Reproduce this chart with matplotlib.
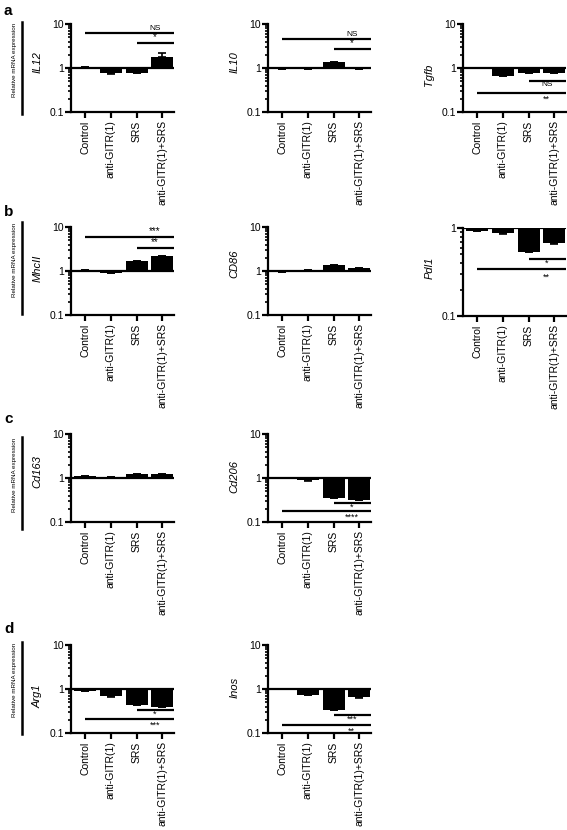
import numpy as np
import matplotlib
matplotlib.use("Agg")
import matplotlib.pyplot as plt
from matplotlib.ticker import LogLocator, NullFormatter, FixedLocator, FixedFormatter

plt.rcParams['font.family'] = ['Liberation Sans', 'DejaVu Sans']

groups = ['Control', 'anti-GITR(1)', 'SRS', 'anti-GITR(1)+SRS']

genes = ['IL12', 'IL10', 'Tgfb', 'MhcII', 'CD86', 'Pdl1', 'Cd163', 'Cd206', 'Arg1', 'Inos']

il12 = [1.06, 0.75, 0.78, 1.8]
il12_err = [0.01, 0.01, 0.02, 0.35]
il10 = [0.95, 0.93, 1.38, 0.93]
il10_err = [0.0, 0.0, 0.01, 0.0]
tgfb = [1.0, 0.67, 0.77, 0.76]
tgfb_err = [0.0, 0.0, 0.0, 0.0]
mhcii = [1.06, 0.9, 1.68, 2.15]
mhcii_err = [0.01, 0.0, 0.02, 0.02]
cd86 = [0.97, 1.07, 1.37, 1.18]
cd86_err = [0.0, 0.0, 0.01, 0.01]
pdl1 = [0.92, 0.87, 0.54, 0.67]
pdl1_err = [0.0, 0.01, 0.01, 0.01]
cd163 = [1.1, 1.04, 1.22, 1.22]
cd163_err = [0.01, 0.0, 0.01, 0.01]
cd206 = [0.98, 0.88, 0.36, 0.31]
cd206_err = [0.0, 0.01, 0.0, 0.0]
arg1 = [0.92, 0.68, 0.44, 0.40]
arg1_err = [0.01, 0.01, 0.0, 0.0]
inos = [1.0, 0.73, 0.33, 0.65]
inos_err = [0.0, 0.01, 0.0, 0.01]

# significance bars: (start group, y level, label)
il12_sig = [(0, 6.3, 'NS'), (2, 3.7, '*')]
il10_sig = [(0, 4.5, 'NS'), (2, 2.7, '*')]
tgfb_sig = [(2, 0.5, 'NS'), (0, 0.27, '**')]
mhcii_sig = [(0, 5.8, '***'), (2, 3.4, '**')]
cd86_sig = []
pdl1_sig = [(2, 0.45, '*'), (0, 0.34, '**')]
cd163_sig = []
cd206_sig = [(2, 0.27, '*'), (0, 0.18, '****')]
arg1_sig = [(2, 0.33, '*'), (0, 0.21, '***')]
inos_sig = [(2, 0.26, '***'), (0, 0.15, '**')]

values = [il12, il10, tgfb, mhcii, cd86, pdl1, cd163, cd206, arg1, inos]
errors = [il12_err, il10_err, tgfb_err, mhcii_err, cd86_err, pdl1_err,
          cd163_err, cd206_err, arg1_err, inos_err]
sigs = [il12_sig, il10_sig, tgfb_sig, mhcii_sig, cd86_sig, pdl1_sig,
        cd163_sig, cd206_sig, arg1_sig, inos_sig]

# layout (pixels)
W, H = 567, 830
cols = [71, 268, 463]
row_top = [24, 227, 434, 645]
ax_w, ax_h = 103, 88
grid = [(0, 0), (0, 1), (0, 2), (1, 0), (1, 1), (1, 2), (2, 0), (2, 1), (3, 0), (3, 1)]
label_y = [0.57, 0.57, 0.42, 0.53, 0.58, 0.55, 0.57, 0.52, 0.42, 0.52]

fig = plt.figure(figsize=(W / 100, H / 100), dpi=100)

x = np.arange(len(groups))
lw = 1.6
for i, gene in enumerate(genes):
    r, c = grid[i]
    top = row_top[r] + (1 if gene == 'Pdl1' else 0)
    ax = fig.add_axes([cols[c] / W, 1 - (top + ax_h) / H, ax_w / W, ax_h / H])
    ax.set_yscale('log')
    ylo, yhi = (0.1, 1) if gene == 'Pdl1' else (0.1, 10)
    ax.set_ylim(ylo, yhi)
    ax.set_xlim(-0.55, 3.45)

    v = np.array(values[i])
    e = np.array(errors[i])
    up = np.where(v >= 1, e, 0)
    dn = np.where(v < 1, e, 0)
    ax.bar(x, v - 1, bottom=1, width=0.85, color='black', zorder=2)
    ax.errorbar(x, v, yerr=[dn, up], fmt='none', ecolor='black',
                elinewidth=1.2, capsize=3, capthick=1.2, zorder=3)
    ax.axhline(1, color='black', lw=lw, zorder=4)

    for start, yv, txt in sigs[i]:
        ax.plot([start, 3.45], [yv, yv], color='black', lw=lw, clip_on=False,
                solid_capstyle='butt')
        if yv > 1:
            fs = 6 if txt == 'NS' else 7
            ax.text(2.7, yv * 1.05, txt, ha='center', va='bottom', fontsize=fs)
        else:
            fs = 6 if txt == 'NS' else 6.5
            off = 1.0 if start == 2 else 1.1
            ax.text(2.7, yv / off, txt, ha='center', va='top', fontsize=fs)

    for s in ['top', 'right']:
        ax.spines[s].set_visible(False)
    for s in ['left', 'bottom']:
        ax.spines[s].set_linewidth(lw)

    ticks = [0.1, 1] if gene == 'Pdl1' else [0.1, 1, 10]
    ax.yaxis.set_major_locator(FixedLocator(ticks))
    ax.yaxis.set_major_formatter(FixedFormatter(['0.1', '1', '10'][:len(ticks)]))
    ax.yaxis.set_minor_locator(LogLocator(base=10, subs=np.arange(2, 10)))
    ax.yaxis.set_minor_formatter(NullFormatter())
    ax.tick_params(axis='y', which='major', length=4, width=lw, labelsize=7.5, pad=1)
    ax.tick_params(axis='y', which='minor', length=2.5, width=1.2)
    ax.set_xticks(x)
    ax.set_xticklabels(groups, rotation=90, fontsize=7.5)
    ax.tick_params(axis='x', length=4, width=lw, pad=2)

    ax.set_ylabel(gene, fontstyle='italic', fontsize=8)
    ax.yaxis.set_label_coords(-0.28, label_y[i])

# row side labels
letters = ['a', 'b', 'c', 'd']
letter_y = [4, 205, 412, 622]
line_top = [22, 222, 437, 642]
for r in range(4):
    fig.text(4 / W, 1 - letter_y[r] / H, letters[r], fontsize=11,
             fontweight='bold', va='top', ha='left')
    fig.add_artist(plt.Line2D([22 / W, 22 / W],
                              [1 - line_top[r] / H, 1 - (line_top[r] + 92) / H],
                              color='black', lw=1.8))
    fig.text(15 / W, 1 - (line_top[r] + 38) / H, 'Relative mRNA expression',
             rotation=90, fontsize=4.5, ha='center', va='center')

fig.savefig('out.png', dpi=100)
